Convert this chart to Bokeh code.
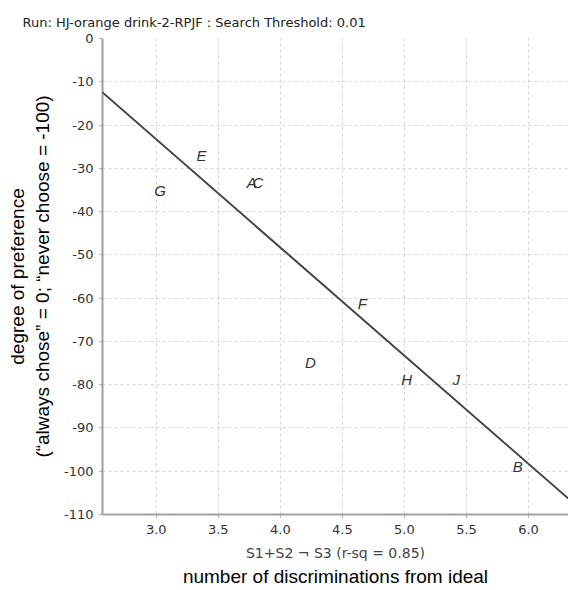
from bokeh.plotting import figure
from bokeh.models import Range1d, FixedTicker, LinearAxis, ColumnDataSource, Slope
from bokeh.core.properties import value
from bokeh.embed import file_html
from bokeh.resources import INLINE

# data
labels = ["A", "B", "C", "D", "E", "F", "G", "H", "J"]
x_vals = [3.77, 5.914, 3.82, 4.243, 3.365, 4.66, 3.03, 5.017, 5.417]
y_vals = [-33.2, -98.9, -33.2, -74.8, -27.0, -61.2, -35.1, -78.9, -78.9]

fit_slope = -25.0
fit_intercept = 51.7

x_ticks = [3.0, 3.5, 4.0, 4.5, 5.0, 5.5, 6.0]
x_tick_labels = ["3.0", "3.5", "4.0", "4.5", "5.0", "5.5", "6.0"]
y_ticks = [0, -10, -20, -30, -40, -50, -60, -70, -80, -90, -100, -110]
y_tick_labels = ["0", "-10", "-20", "-30", "-40", "-50", "-60", "-70", "-80", "-90", "-100", "-110"]

title_text = "Run: HJ-orange drink-2-RPJF : Search Threshold: 0.01"
x_label_small = "S1+S2 \u00ac S3 (r-sq = 0.85)"
x_label_big = "number of discriminations from ideal"
y_label = "degree of preference\n(\u201calways chose\u201d = 0; \u201cnever choose = -100)"

p = figure(width=568, height=590, x_range=Range1d(2.567, 6.322), y_range=Range1d(-110, 0),
           output_backend="svg", toolbar_location=None,
           min_border_left=102, min_border_right=0, min_border_top=38, min_border_bottom=76,
           background_fill_color="white", border_fill_color="white", outline_line_color=None)

p.title.text = title_text
p.title.text_font = "DejaVu Sans"
p.title.text_font_size = "13px"
p.title.text_font_style = "normal"
p.title.text_color = "#222222"
p.title.align = "left"
p.title.offset = -80
p.title.standoff = 18

axis_col = "#a0a0a0"
xa = p.xaxis[0]
xa.ticker = FixedTicker(ticks=x_ticks)
xa.major_label_overrides = {t: l for t, l in zip(x_ticks, x_tick_labels)}
xa.axis_line_color = axis_col
xa.axis_line_width = 2
xa.major_tick_out = 3
xa.major_tick_in = 0
xa.minor_tick_out = 0
xa.minor_tick_in = 0
xa.major_tick_line_color = axis_col
xa.major_label_text_font = "DejaVu Sans"
xa.major_label_text_font_size = "13px"
xa.major_label_text_color = "#333333"
xa.major_label_standoff = 7
xa.axis_label = x_label_small
xa.axis_label_text_font = "DejaVu Sans"
xa.axis_label_text_font_size = "14px"
xa.axis_label_text_font_style = "normal"
xa.axis_label_text_color = "#444444"
xa.axis_label_standoff = 8

ya = p.yaxis[0]
ya.ticker = FixedTicker(ticks=y_ticks)
ya.major_label_overrides = {t: l for t, l in zip(y_ticks, y_tick_labels)}
ya.axis_line_color = axis_col
ya.axis_line_width = 2
ya.major_tick_out = 3
ya.major_tick_in = 0
ya.minor_tick_out = 0
ya.minor_tick_in = 0
ya.major_tick_line_color = axis_col
ya.major_label_text_font = "DejaVu Sans"
ya.major_label_text_font_size = "13px"
ya.major_label_text_color = "#333333"
ya.major_label_standoff = 6
ya.axis_label = y_label
ya.axis_label_text_font = "Liberation Sans"
ya.axis_label_text_font_size = "19px"
ya.axis_label_text_font_style = "normal"
ya.axis_label_text_color = "#000000"
ya.axis_label_standoff = 8

ax2 = LinearAxis(ticker=FixedTicker(ticks=[]), axis_label=x_label_big,
                 axis_line_color=None, major_tick_out=0, major_tick_in=0,
                 minor_tick_out=0, minor_tick_in=0, major_label_text_font_size="0px",
                 major_label_standoff=0, axis_label_standoff=2,
                 axis_label_text_font="Liberation Sans", axis_label_text_font_size="19px",
                 axis_label_text_font_style="normal", axis_label_text_color="#000000")
p.add_layout(ax2, "below")

for g in (p.xgrid[0], p.ygrid[0]):
    g.grid_line_color = "#d4d4d4"
    g.grid_line_dash = "3 3"
    g.grid_line_width = 1

p.add_layout(Slope(gradient=fit_slope, y_intercept=fit_intercept,
                   line_color="#444444", line_width=2))

src = ColumnDataSource(dict(x=x_vals, y=y_vals, label=labels))
p.text(x="x", y="y", text="label", source=src, text_font=value("Liberation Sans"),
       text_font_style="italic", text_font_size="15px", text_color="#333333",
       text_align="center", text_baseline="middle")

open("out.html", "w").write(file_html(p, INLINE))
